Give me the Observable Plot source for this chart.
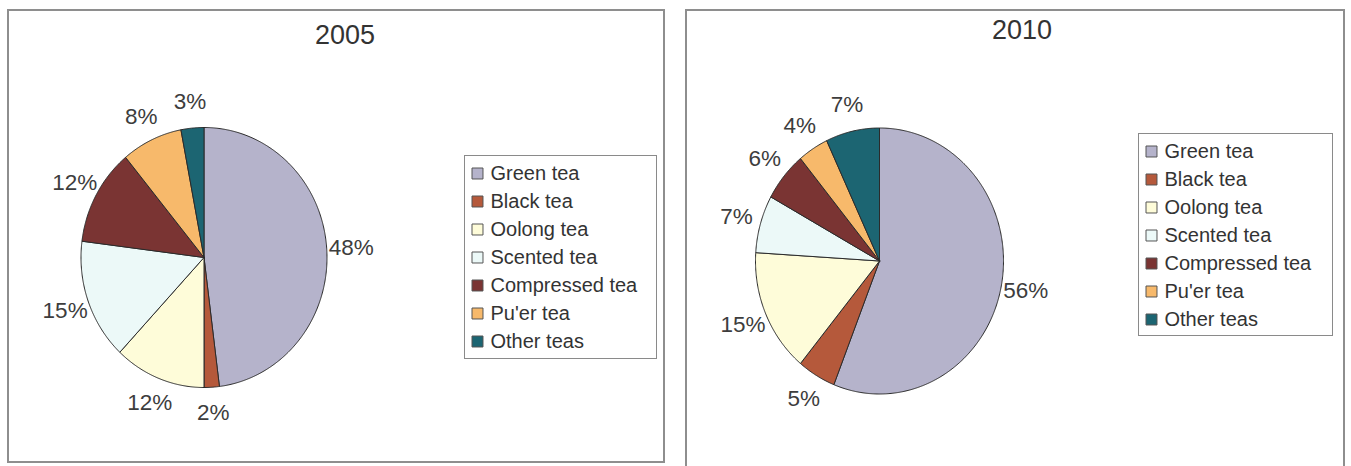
<!DOCTYPE html>
<html>
<head>
<meta charset="utf-8">
<script src="https://cdn.jsdelivr.net/npm/d3@7"></script>
<script src="https://cdn.jsdelivr.net/npm/@observablehq/plot@0.6"></script>
<style>
  html, body { margin: 0; padding: 0; background: #fff; }
  body { width: 1351px; height: 466px; position: relative; overflow: hidden;
         font-family: "Liberation Sans", Arial, sans-serif; }
  .panel { position: absolute; box-sizing: border-box; border: 2px solid #8e8e8e; background: #fff; }
  .title { position: absolute; width: 200px; text-align: center; font-size: 27px; color: #333; line-height: 1; }
  .abs { position: absolute; }
  .legendbox { position: absolute; box-sizing: border-box; border: 1.5px solid #8a8a8a; background: #fff; }
  svg { overflow: visible; }
</style>
</head>
<body>
<div class="panel" style="left:7px;top:9px;width:658px;height:454px;"></div>
<div class="panel" style="left:685px;top:9px;width:660px;height:470px;"></div>
<div id="root"></div>
<script>
// ---- data ----
const categories = ["Green tea", "Black tea", "Oolong tea", "Scented tea", "Compressed tea", "Pu'er tea", "Other teas"];
const colors = ["#b5b3cb", "#b5593b", "#fefcd9", "#ecf9f8", "#7a3433", "#f7b96b", "#1c6572"];
const years = ["2005", "2010"];
const share2005 = [48, 2, 12, 15, 12, 8, 3];
const share2010 = [56, 5, 15, 7, 6, 4, 7];

// ---- layout (pixels) ----
const layout = {
  "2005": {cx: 203, cy: 257, rx: 123, ry: 130, titleX: 345, titleY: 22,
           legend: {left: 464, top: 155, width: 193, height: 204}},
  "2010": {cx: 879, cy: 260, rx: 124, ry: 133, titleX: 1022, titleY: 17,
           legend: {left: 1138, top: 133, width: 195, height: 203}}
};

const root = document.getElementById("root");
const pie = d3.pie().sort(null).value(d => d.value);
const extent = 1.5;
const labelR = 1.2;

function slices(values) {
  const rows = categories.map((c, i) => ({cat: c, value: values[i]}));
  const arcs = pie(rows);
  const pts = [];
  const labels = [];
  arcs.forEach(a => {
    const cat = a.data.cat;
    pts.push({cat, x: 0, y: 0});
    const n = Math.max(2, Math.ceil((a.endAngle - a.startAngle) / (Math.PI / 360)));
    for (let k = 0; k <= n; k++) {
      const t = a.startAngle + (a.endAngle - a.startAngle) * k / n;
      pts.push({cat, x: Math.sin(t), y: Math.cos(t)});
    }
    pts.push({cat, x: 0, y: 0});
    const m = (a.startAngle + a.endAngle) / 2;
    labels.push({cat, value: a.data.value, x: labelR * Math.sin(m), y: labelR * Math.cos(m)});
  });
  return {pts, labels};
}

years.forEach((year, yi) => {
  const values = yi === 0 ? share2005 : share2010;
  const L = layout[year];
  const {pts, labels} = slices(values);
  const w = Math.round(2 * extent * L.rx), h = Math.round(2 * extent * L.ry);
  const chart = Plot.plot({
    width: w, height: h, margin: 0,
    x: {domain: [-extent, extent], axis: null},
    y: {domain: [-extent, extent], axis: null},
    color: {type: "ordinal", domain: categories, range: colors},
    style: {background: "transparent", overflow: "visible", fontFamily: "'Liberation Sans', Arial, sans-serif"},
    marks: [
      Plot.line(pts, {x: "x", y: "y", z: "cat", fill: "cat", stroke: "#2b2b2b", strokeWidth: 1, curve: "linear", strokeLinejoin: "miter"}),
      Plot.text(labels, {x: "x", y: "y", text: d => d.value + "%", fontSize: 22.5, fill: "#3d3d3d"})
    ]
  });
  const wrap = document.createElement("div");
  wrap.className = "abs";
  wrap.style.left = (L.cx - w / 2) + "px";
  wrap.style.top = (L.cy - h / 2) + "px";
  chart.style.maxWidth = "none";
  wrap.appendChild(chart);
  root.appendChild(wrap);

  // title
  const t = document.createElement("div");
  t.className = "title";
  t.textContent = year;
  t.style.left = (L.titleX - 100) + "px";
  t.style.top = L.titleY + "px";
  root.appendChild(t);

  // legend
  const lg = L.legend;
  const box = document.createElement("div");
  box.className = "legendbox";
  Object.assign(box.style, {left: lg.left + "px", top: lg.top + "px", width: lg.width + "px", height: lg.height + "px"});
  const legend = Plot.plot({
    width: lg.width - 3, height: lg.height - 3, margin: 0,
    x: {domain: [0, 1], axis: null},
    y: {type: "point", domain: categories, range: [15.5, 187], padding: 0, axis: null},
    color: {type: "ordinal", domain: categories, range: colors},
    style: {background: "transparent", overflow: "visible", fontFamily: "'Liberation Sans', Arial, sans-serif"},
    marks: [
      Plot.dot(categories, {y: d => d, frameAnchor: "left", dx: 12, symbol: "square", r: 6.2, fill: d => d, stroke: "#555", strokeWidth: 1}),
      Plot.text(categories, {y: d => d, text: d => d, frameAnchor: "left", dx: 25, textAnchor: "start", fontSize: 20, fill: "#333"})
    ]
  });
  legend.style.maxWidth = "none";
  box.appendChild(legend);
  root.appendChild(box);
});
</script>
</body>
</html>
